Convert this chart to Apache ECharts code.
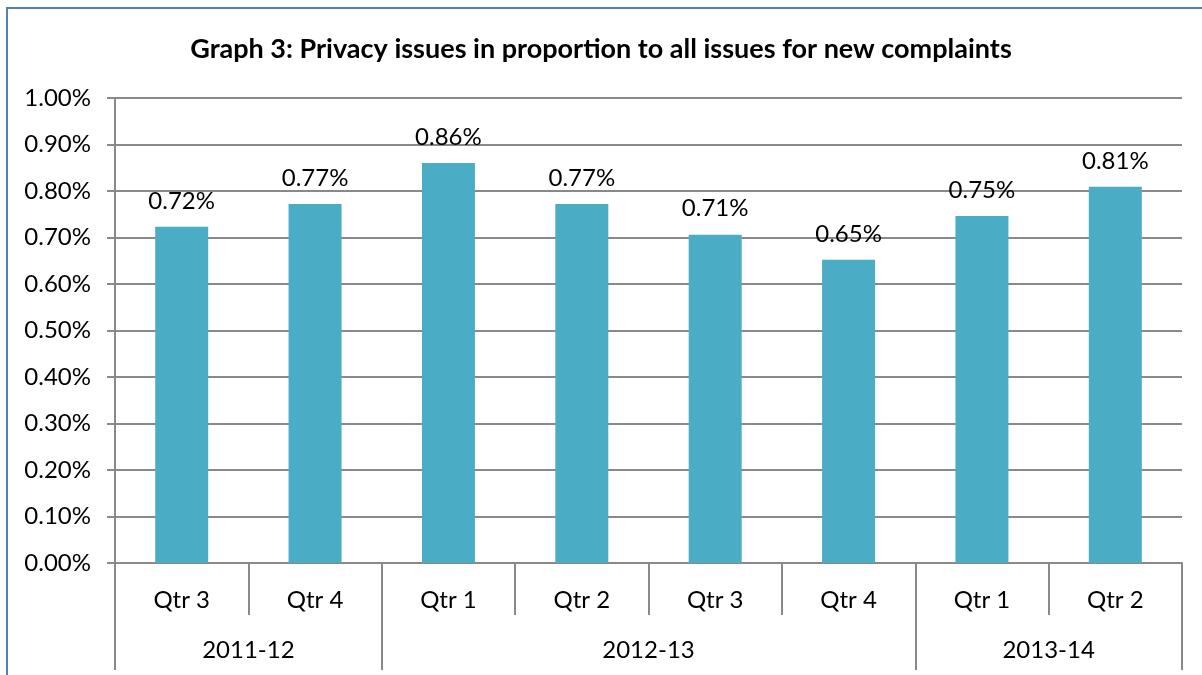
<!DOCTYPE html>
<html>
<head>
<meta charset="utf-8">
<title>Graph 3</title>
<script src="https://cdn.jsdelivr.net/npm/echarts@6/dist/echarts.min.js"></script>
<style>
  html, body { margin: 0; padding: 0; background: #fff; overflow: hidden; }
  #main { width: 1202px; height: 675px; position: relative; }
  /* chart frame, runs off the right and bottom edges like in the source */
  .frame {
    position: absolute; left: 6px; top: 7px; width: 1300px; height: 800px;
    border: 2px solid #4F81BD; box-sizing: border-box; pointer-events: none;
  }
</style>
</head>
<body>
<div id="main"></div>
<div class="frame"></div>
<script>
// quarters on the lower axis row
var quarters = ['Qtr 3', 'Qtr 4', 'Qtr 1', 'Qtr 2', 'Qtr 3', 'Qtr 4', 'Qtr 1', 'Qtr 2'];
// financial years and how many quarters each one covers
var years = ['2011-12', '2012-13', '2013-14'];
var yearCounts = [2, 4, 2];
// privacy issues as % of all issues
var privacyShare = [0.723, 0.772, 0.860, 0.772, 0.706, 0.652, 0.746, 0.809];
var yTicks = { min: 0, max: 1, step: 0.1 };

// year group edges / centres in category units
var yearEdges = [0];
var yearMid = [];
yearCounts.forEach(function (n, i) {
  var start = yearEdges[i];
  yearEdges.push(start + n);
  yearMid.push(start + n / 2);
});

var gray = '#898989';
var font = 'Lato, "Open Sans", sans-serif';
var fs = 24;

var chart = echarts.init(document.getElementById('main'));
chart.setOption({
  animation: false,
  textStyle: { fontFamily: font },
  title: {
    text: 'Graph 3: Privacy issues in proportion to all issues for new complaints',
    left: 'center',
    top: 31,
    textStyle: { fontSize: 27, fontWeight: 'bold', color: '#000', fontFamily: font }
  },
  grid: { left: 115, right: 20, top: 98, bottom: 112 },
  xAxis: [
    {
      type: 'category',
      data: quarters,
      axisLine: { lineStyle: { color: gray, width: 2 } },
      axisTick: { show: true, interval: 0, length: 52, lineStyle: { color: gray, width: 2 } },
      axisLabel: { interval: 0, margin: 25, fontSize: fs, color: '#000', fontFamily: font }
    },
    {
      // second row: year groups
      type: 'value',
      min: 0,
      max: quarters.length,
      position: 'bottom',
      offset: 52,
      axisLine: { show: false },
      splitLine: { show: false },
      axisTick: {
        show: true,
        length: 55,
        customValues: yearEdges,
        lineStyle: { color: gray, width: 2 }
      },
      axisLabel: {
        customValues: yearMid,
        margin: 23,
        fontSize: fs,
        color: '#000',
        fontFamily: font,
        formatter: function (v) { return years[yearMid.indexOf(v)]; }
      }
    }
  ],
  yAxis: {
    type: 'value',
    min: yTicks.min,
    max: yTicks.max,
    interval: yTicks.step,
    axisLine: { show: true, lineStyle: { color: gray, width: 2 } },
    axisTick: { show: true, length: 8, lineStyle: { color: gray, width: 2 } },
    splitLine: { lineStyle: { color: gray, width: 2 } },
    axisLabel: {
      margin: 24,
      fontSize: fs,
      color: '#000',
      fontFamily: font,
      formatter: function (v) { return v.toFixed(2) + '%'; }
    }
  },
  series: [
    {
      type: 'bar',
      xAxisIndex: 0,
      data: privacyShare,
      barWidth: 53,
      itemStyle: { color: '#4BACC6' },
      label: {
        show: true,
        position: 'top',
        distance: 14,
        fontSize: fs,
        color: '#000',
        fontFamily: font,
        formatter: function (p) { return p.value.toFixed(2) + '%'; }
      }
    }
  ]
});
</script>
</body>
</html>
